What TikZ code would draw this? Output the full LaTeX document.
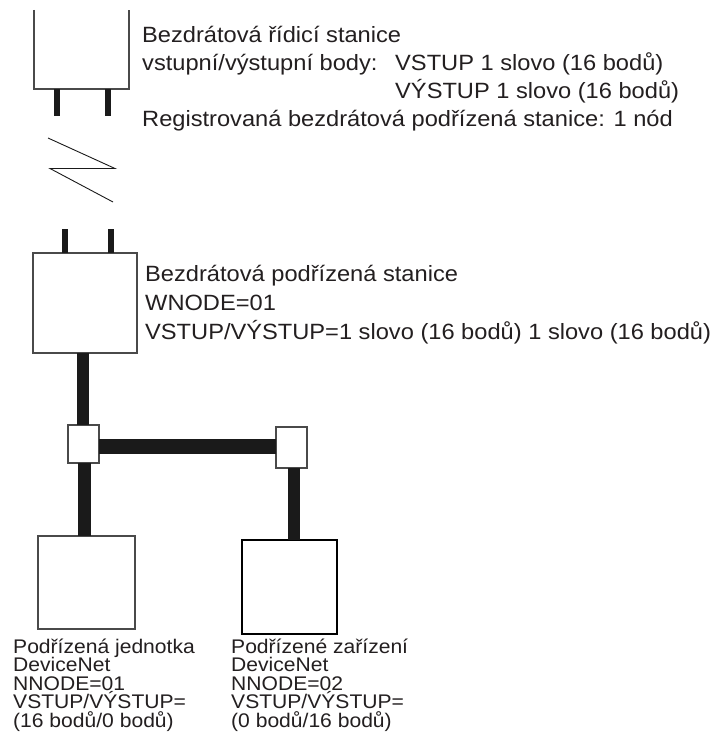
\documentclass[tikz,border=0pt]{standalone}
\usepackage{fontspec}
\setmainfont{Liberation Sans}[FakeStretch=1.07]
\definecolor{framegray}{HTML}{4A4A4A}
\definecolor{busblack}{HTML}{1A1A1A}
\definecolor{txtcol}{HTML}{231F20}
\begin{document}
\begin{tikzpicture}[x=1pt,y=-1pt,
  frame/.style={draw=framegray,line width=1.5pt,fill=white,inner sep=0pt,outer sep=0pt},
  bus/.style={draw=busblack,line width=12.5pt},
  leg/.style={draw=busblack,line width=5.5pt},
  zig/.style={draw=busblack,line width=0.9pt},
  bigtxt/.style={anchor=base west,inner sep=0pt,text=txtcol,font=\fontsize{22.1}{27}\selectfont},
  smalltxt/.style={anchor=base west,inner sep=0pt,text=txtcol,font=\fontsize{19.7}{18.5}\selectfont}]
\useasboundingbox[fill=white] (0,0) rectangle (719,741);

% wireless master station (open at top)
\node[inner sep=0pt,minimum width=95pt,minimum height=79pt] (ms) at (81.5,49.5) {};
\draw[draw=framegray,line width=1.5pt] (ms.north west) -- (ms.south west) -- (ms.south east) -- (ms.north east);
\coordinate (ml1) at (57,116);
\coordinate (ml2) at (108,116);
\draw[leg] (ml1 |- ms.south) -- (ml1);
\draw[leg] (ml2 |- ms.south) -- (ml2);

% radio link
\coordinate (z1) at (48,138);
\coordinate (z2) at (115,168.5);
\coordinate (z3) at (50,168.5);
\coordinate (z4) at (113,202);
\draw[zig,line join=miter] (z1) -- (z2) -- (z3) -- (z4);

% wireless slave station
\node[frame,minimum width=104pt,minimum height=100pt] (ws) at (85,303) {};
\coordinate (sl1) at (65,229);
\coordinate (sl2) at (111,229);
\draw[leg] (sl1) -- (sl1 |- ws.north);
\draw[leg] (sl2) -- (sl2 |- ws.north);

% T-connectors
\node[frame,minimum width=31pt,minimum height=38pt] (c1) at (83.5,444) {};
\node[frame,minimum width=31pt,minimum height=41pt] (c2) at (291.5,447.5) {};

% DeviceNet slaves
\node[frame,minimum width=97pt,minimum height=93pt] (d1) at (86.5,582.5) {};
\node[frame,draw=black,minimum width=95pt,minimum height=94pt] (d2) at (289.5,587) {};

% cables
\coordinate (b1) at (83,0);
\coordinate (b2) at (84.5,0);
\coordinate (b3) at (294,0);
\coordinate (h1) at (0,446);
\draw[bus] (b1 |- ws.south) -- (b1 |- c1.north);
\draw[bus,line width=15pt] (h1 -| c1.east) -- (h1 -| c2.west);
\draw[bus] (b2 |- c1.south) -- (b2 |- d1.north);
\draw[bus,line width=12pt] (b3 |- c2.south) -- (b3 |- d2.north);

% texts: master
\node[bigtxt] (t1) at (142,43) {Bezdrátová řídicí stanice};
\node[bigtxt] (t2) at (142,70.5) {vstupní/výstupní body:};
\node[bigtxt] (t2b) at (395,70.5) {VSTUP 1 slovo (16 bodů)};
\node[bigtxt] (t3) at (395,99) {VÝSTUP 1 slovo (16 bodů)};
\node[bigtxt] (t4) at (142,127) {Registrovaná bezdrátová podřízená stanice: 1 nód};

% texts: wireless slave
\node[bigtxt] (s1) at (145,281) {Bezdrátová podřízená stanice};
\node[bigtxt] (s2) at (145,310) {WNODE=01};
\node[bigtxt] (s3) at (145,339) {VSTUP/VÝSTUP=1 slovo (16 bodů) 1 slovo (16 bodů)};

% texts: DeviceNet slave 1
\node[smalltxt] (a1) at (13,653) {Podřízená jednotka};
\node[smalltxt] (a2) at (13,671.5) {DeviceNet};
\node[smalltxt] (a3) at (13,690) {NNODE=01};
\node[smalltxt] (a4) at (13,708.5) {VSTUP/VÝSTUP=};
\node[smalltxt] (a5) at (13,727) {(16 bodů/0 bodů)};

% texts: DeviceNet slave 2
\node[smalltxt] (e1) at (231,653) {Podřízené zařízení};
\node[smalltxt] (e2) at (231,671.5) {DeviceNet};
\node[smalltxt] (e3) at (231,690) {NNODE=02};
\node[smalltxt] (e4) at (231,708.5) {VSTUP/VÝSTUP=};
\node[smalltxt] (e5) at (231,727) {(0 bodů/16 bodů)};
\end{tikzpicture}
\end{document}
